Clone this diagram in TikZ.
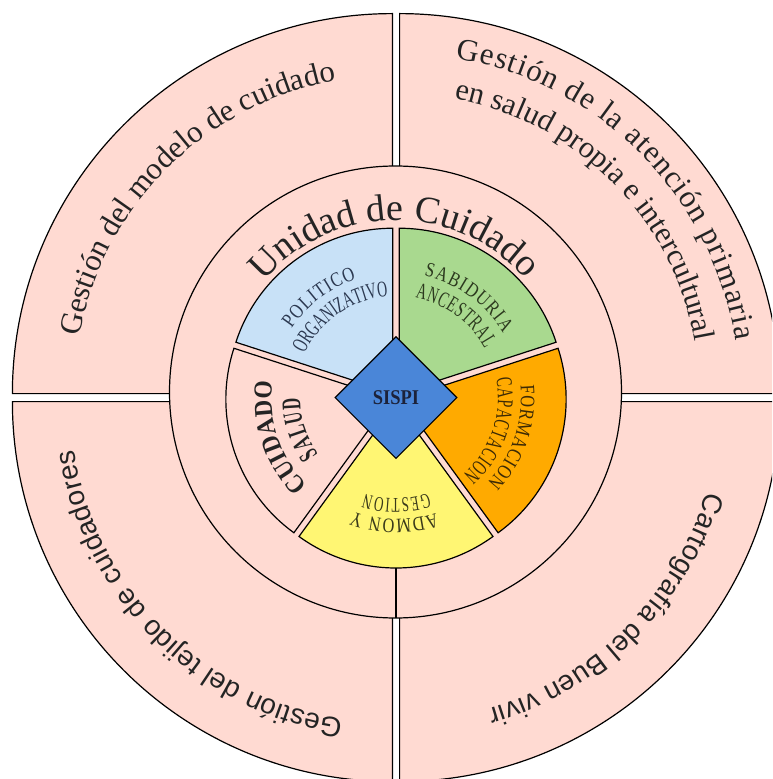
\documentclass[tikz,border=0pt]{standalone}
\usepackage{fontspec}
\setmainfont{Liberation Serif}
\newfontfamily\sansfont{Liberation Sans}
\newfontfamily\labelfont{Liberation Serif}[FakeStretch=0.8]
\newfontfamily\tallfont{Liberation Serif}[FakeStretch=0.62]
\newfontfamily\slimfont{Liberation Serif}[FakeStretch=0.6]
\newfontfamily\boldwide{Liberation Serif}[FakeStretch=0.9]
\newfontfamily\sispifont{Liberation Serif}[FakeStretch=0.88]
\usetikzlibrary{decorations.text,shapes.geometric}

\definecolor{ringpink}{RGB}{255,218,210}
\definecolor{wedgeblue}{RGB}{200,225,247}
\definecolor{wedgegreen}{RGB}{169,217,143}
\definecolor{wedgeorange}{RGB}{255,170,0}
\definecolor{wedgeyellow}{RGB}{255,246,115}
\definecolor{sispiblue}{RGB}{74,134,216}
\definecolor{inktext}{RGB}{36,36,36}
\definecolor{poltext}{RGB}{43,56,80}
\definecolor{sabtext}{RGB}{44,58,30}
\definecolor{fortext}{RGB}{60,42,5}
\definecolor{admtext}{RGB}{58,58,26}
\definecolor{sispitext}{RGB}{28,34,58}

\tikzset{
  quadrant/.style={fill=ringpink, draw=black, line width=1.2pt},
  wedge/.style={draw=black, line width=1.2pt},
}

% text along a clockwise arc: [colour] centre, radius, start, end, text
\newcommand{\arclabel}[6][inktext]{%
  \path[decorate, decoration={text along path, text align={fit to path},
      text color=#1, text={#6}}]
    (#2) ++(#4:#3) arc[start angle=#4, end angle=#5, radius=#3];}

\begin{document}
\begin{tikzpicture}[x=1pt, y=1pt]
    \useasboundingbox (-396,-381.4) rectangle (376,397.6);
    \clip (-396,-381.4) rectangle (376,397.6);

    \coordinate (pie) at (0,0);
    \coordinate (ring) at (-0.5,5.6);
    \coordinate (q1) at (-3.6,4);
    \coordinate (q2) at (3.6,4);
    \coordinate (q3) at (-3.6,-4);
    \coordinate (q4) at (3.6,-4);

    % outer quarters
    \foreach \q/\a in {q1/90, q2/0, q3/180, q4/270}
        \filldraw[quadrant] (\q) -- ++(\a:380) arc[start angle=\a, delta angle=90, radius=380] -- cycle;

    \arclabel{q1}{318}{169.7}{100.4}{|\fontsize{31}{36}\selectfont|Gestión del modelo de cuidado}
    \arclabel{q2}{340}{80.5}{9}{|\fontsize{31}{36}\selectfont|Gestión de la atención primaria}
    \arclabel{q2}{300}{79.5}{10.5}{|\fontsize{30.5}{36}\selectfont|en salud propia e intercultural}
    \arclabel{q3}{322}{261.2}{188.6}{|\sansfont\fontsize{28}{34}\selectfont|Gestión del tejido de cuidadores}
    \arclabel{q4}{320}{-16.4}{-74}{|\sansfont\fontsize{28}{34}\selectfont|Cartografía del Buen vivir}

    % middle ring
    \filldraw[quadrant] (ring) circle[radius=226];
    \arclabel{ring}{172}{140}{41}{|\fontsize{38}{44}\selectfont|Unidad de Cuidado}

    \coordinate (piebottom) at (0,-170.4);
    \coordinate (ringbottom) at (0,-220.4);
    \draw[line width=1.2pt] (piebottom) -- (ringbottom);

    % pie wedges
    \foreach \a/\col in {90/wedgeblue, 18/wedgegreen, -54/wedgeorange, 234/wedgeyellow, 162/ringpink}
        \filldraw[wedge, fill=\col] ({\a+36}:5.4) -- ++(\a:165) arc[start angle=\a, delta angle=72, radius=165] -- cycle;

    \arclabel[poltext]{pie}{125}{146.5}{108.5}{|\labelfont\fontsize{20.5}{24}\selectfont|POLITICO}
    \arclabel[poltext]{pie}{101.5}{154.5}{94.5}{|\tallfont\fontsize{22.5}{26}\selectfont|ORGANIZATIVO}
    \arclabel[sabtext]{pie}{125}{77}{31}{|\labelfont\fontsize{20.5}{24}\selectfont|SABIDURIA}
    \arclabel[sabtext]{pie}{101.5}{79}{29}{|\tallfont\fontsize{22.5}{26}\selectfont|ANCESTRAL}
    \arclabel[fortext]{pie}{125}{5.5}{-43}{|\labelfont\fontsize{20.5}{24}\selectfont|FORMACION}
    \arclabel[fortext]{pie}{102}{10.5}{-49}{|\tallfont\fontsize{22.5}{26}\selectfont|CAPACTACION}
    \arclabel[admtext]{pie}{122}{289}{249.3}{|\labelfont\fontsize{20.5}{24}\selectfont|ADMON Y}
    \arclabel[admtext]{pie}{101}{288.5}{252}{|\tallfont\fontsize{21}{26}\selectfont|GESTION}
    \arclabel{pie}{124.5}{225}{172.5}{|\boldwide\bfseries\fontsize{26}{30}\selectfont|CUIDADO}
    \arclabel{pie}{96}{216}{180}{|\slimfont\bfseries\fontsize{27}{30}\selectfont|SALUD}

    \node[diamond, draw=black, fill=sispiblue, line width=1.2pt, inner sep=0pt,
          minimum width=122pt, minimum height=122pt, text=sispitext,
          font=\sispifont\bfseries\fontsize{21}{24}\selectfont] (sispi) at (pie) {SISPI};
\end{tikzpicture}
\end{document}
